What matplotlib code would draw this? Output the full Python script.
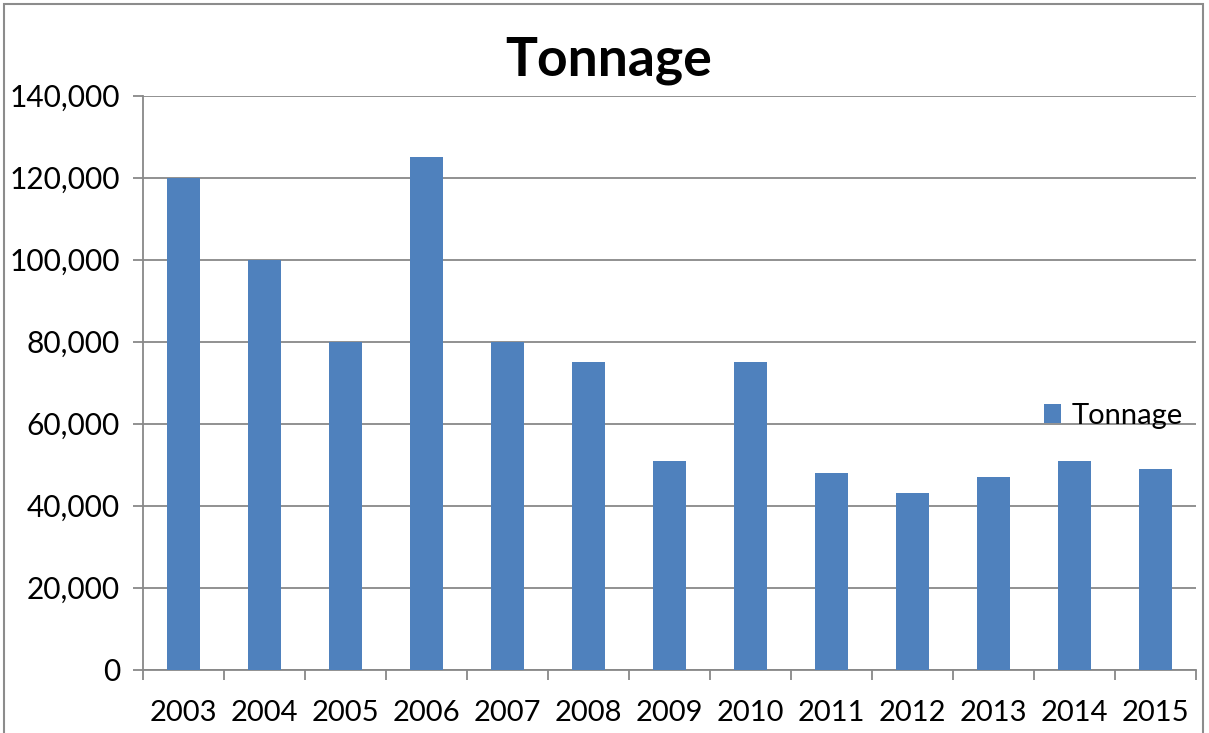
import matplotlib.pyplot as plt
from matplotlib.patches import Rectangle
from matplotlib.ticker import FuncFormatter, FixedLocator
import numpy as np

years = ["2003", "2004", "2005", "2006", "2007", "2008", "2009",
         "2010", "2011", "2012", "2013", "2014", "2015"]
tonnage = [120000, 100000, 80000, 125000, 80000, 75000, 51000,
           75000, 48000, 43000, 47000, 51000, 49000]

plt.rcParams["font.family"] = ["Lato", "DejaVu Sans"]

BAR_COLOR = "#4F81BD"
GRID_COLOR = "#888888"

fig = plt.figure(figsize=(12.09, 7.33), dpi=100)
ax = fig.add_axes([0.1183, 0.0864, 0.9892 - 0.1183, 0.8694 - 0.0864])

x = np.arange(len(years))
ax.bar(x, tonnage, width=0.4, color=BAR_COLOR, label="Tonnage", zorder=3)

ax.set_xlim(-0.5, len(years) - 0.5)
ax.set_ylim(0, 140000)
ax.set_yticks(range(0, 140001, 20000))
ax.yaxis.set_major_formatter(FuncFormatter(lambda v, _: f"{int(v):,}"))
ax.yaxis.grid(True, color=GRID_COLOR, linewidth=1.3, zorder=0)

ax.set_xticks(x)
ax.set_xticklabels(years)
ax.xaxis.set_minor_locator(FixedLocator(np.arange(-0.5, len(years), 1.0)))
ax.tick_params(axis="x", which="major", length=0, pad=22, labelsize=21)
ax.tick_params(axis="x", which="minor", length=7.5, width=1.3, color=GRID_COLOR)
ax.tick_params(axis="y", which="major", length=7.5, width=1.3, color=GRID_COLOR,
               pad=9, labelsize=21.5)

for side in ("top", "right"):
    ax.spines[side].set_visible(False)
for side in ("left", "bottom"):
    ax.spines[side].set_color(GRID_COLOR)
    ax.spines[side].set_linewidth(1.3)

fig.text(0.503, 0.917, "Tonnage", ha="center", va="center",
         fontsize=38.5, fontweight="bold")

ax.legend(loc="center left", bbox_to_anchor=(0.836, 0.442), frameon=False,
          fontsize=21, handlelength=0.6, handleheight=0.6, handletextpad=0.35,
          borderpad=0.2)

fig.patches.append(Rectangle((4 / 1209, -0.1), (1203 - 4) / 1209, 1.1 - 4 / 733,
                             transform=fig.transFigure, fill=False,
                             edgecolor="#8C8C8C", linewidth=1.5))

fig.savefig("out.png", dpi=100)
